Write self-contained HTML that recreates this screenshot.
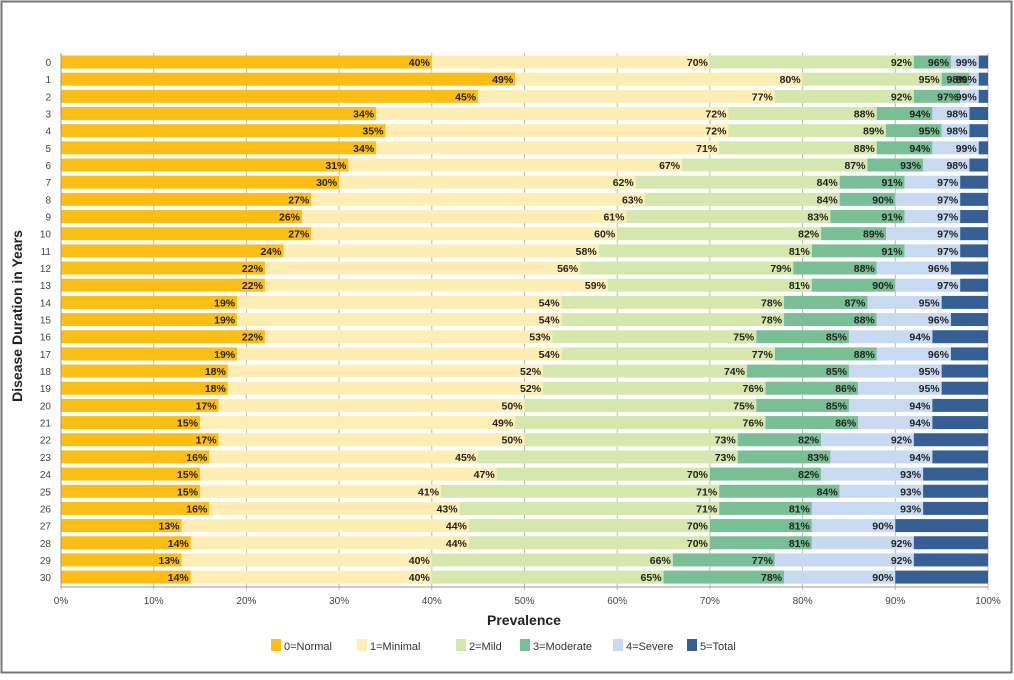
<!DOCTYPE html>
<html><head><meta charset="utf-8"><style>
body{margin:0;background:#fff;font-family:"Liberation Sans",sans-serif}
svg text{font-family:"Liberation Sans",sans-serif}
</style></head><body>
<svg id="c" width="1014" height="675">
<rect x="1.5" y="1.5" width="1010" height="671" fill="#fff" stroke="#777" stroke-width="2"/>
<g id="grid"></g><g id="bars"></g><g id="labels"></g><g id="axes"></g>
<text x="22" y="316" transform="rotate(-90 22 316)" text-anchor="middle" font-size="14" font-weight="bold" fill="#222">Disease Duration in Years</text>
<text x="524" y="625" text-anchor="middle" font-size="14" font-weight="bold" fill="#222">Prevalence</text>
<g id="legend"></g>
</svg>
<script>
const categories=[0,1,2,3,4,5,6,7,8,9,10,11,12,13,14,15,16,17,18,19,20,21,22,23,24,25,26,27,28,29,30];
const normalCum=[40,49,45,34,35,34,31,30,27,26,27,24,22,22,19,19,22,19,18,18,17,15,17,16,15,15,16,13,14,13,14];
const minimalCum=[70,80,77,72,72,71,67,62,63,61,60,58,56,59,54,54,53,54,52,52,50,49,50,45,47,41,43,44,44,40,40];
const mildCum=[92,95,92,88,89,88,87,84,84,83,82,81,79,81,78,78,75,77,74,76,75,76,73,73,70,71,71,70,70,66,65];
const moderateCum=[96,98,97,94,95,94,93,91,90,91,89,91,88,90,87,88,85,88,85,86,85,86,82,83,82,84,81,81,81,77,78];
const severeCum=[99,99,99,98,98,99,98,97,97,97,97,97,96,97,95,96,94,96,95,95,94,94,92,94,93,93,93,90,92,92,90];
const seriesNames=["0=Normal","1=Minimal","2=Mild","3=Moderate","4=Severe","5=Total"];
const xTicks=[0,10,20,30,40,50,60,70,80,90,100];
const colors=["#FDBE14","#FEEEB3","#D5E7AC","#79BF96","#C8DAF1","#365F95"];
const NS="http://www.w3.org/2000/svg";
const X0=61,X1=988,Y0=62,PITCH=17.17,BH=13;
const xs=v=>X0+(X1-X0)*v/100;
const ys=i=>Y0+PITCH*i;
function mk(t,a,p){const e=document.createElementNS(NS,t);for(const k in a)e.setAttribute(k,a[k]);p.appendChild(e);return e;}
const grid=document.getElementById('grid'),bars=document.getElementById('bars'),labels=document.getElementById('labels'),axes=document.getElementById('axes'),legend=document.getElementById('legend');
xTicks.forEach(t=>{
 const l=mk('line',{x1:xs(t),x2:xs(t),y1:53,y2:590,stroke:'#bbb','stroke-width':1},grid);
 
 
 const tx=mk('text',{x:xs(t),y:604,'text-anchor':'middle','font-size':10,fill:'#444'},axes);
 tx.textContent=t+'%';
 
 
});
mk('line',{x1:X0,x2:X0,y1:53,y2:587,stroke:'#999'},axes);
mk('line',{x1:X0,x2:X1,y1:587,y2:587,stroke:'#999'},axes);
const cums=[normalCum,minimalCum,mildCum,moderateCum,severeCum];
categories.forEach((c,i)=>{
 const y=ys(i);
 const t=mk('text',{x:51,y:y+4,'text-anchor':'end','font-size':10,fill:'#444'},axes);
 t.textContent=c;
 
 
 let prev=0;
 for(let s=0;s<6;s++){
  const end=s<5?cums[s][i]:100;
  const r=mk('rect',{x:xs(prev),y:y-BH/2,width:Math.max(0,xs(end)-xs(prev)),height:BH,fill:colors[s]},bars);
  
  
  if(s<5){
   const lb=mk('text',{x:xs(end)-2,y:y+4,'text-anchor':'end','font-size':10.5,'font-weight':'bold',fill:'#222'},labels);
   lb.textContent=end+'%';
   
   
  }
  prev=end;
 }
});
const lx=[271,357,456,520,613,687];
seriesNames.forEach((n,k)=>{
 const g=mk('g',{},legend);
 
 
 mk('rect',{x:lx[k],y:639,width:10,height:12,fill:colors[k]},g);
 const t=mk('text',{x:lx[k]+13,y:650,'font-size':11,fill:'#333'},g);
 t.textContent=n;
});
</script>
</body></html>
